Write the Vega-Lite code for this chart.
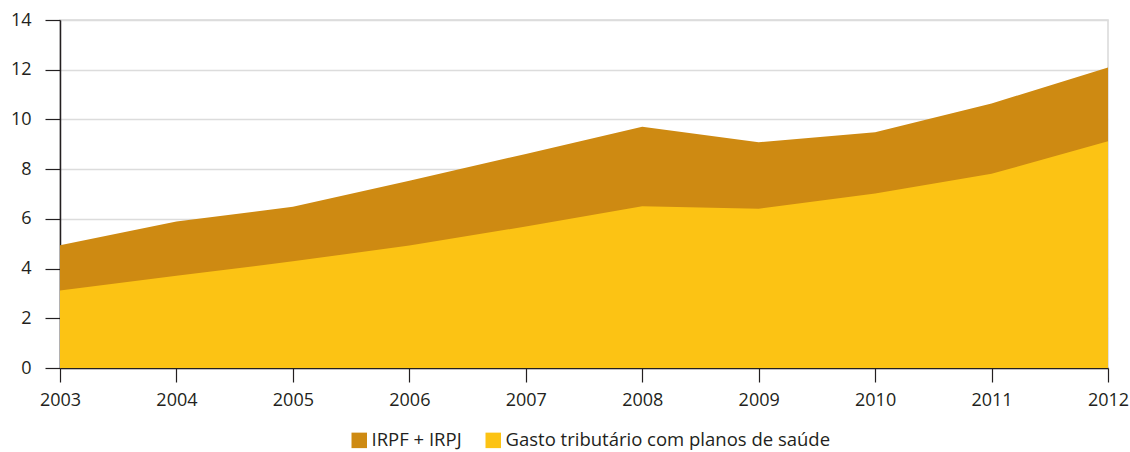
{
  "$schema": "https://vega.github.io/schema/vega-lite/v6.json",
  "autosize": "none",
  "width": 1048,
  "height": 348,
  "padding": {"left": 60, "top": 20, "right": 22, "bottom": 84},
  "background": "white",
  "config": {
    "font": "Open Sans",
    "view": {"stroke": "#d9d9d9", "strokeWidth": 1.5},
    "axis": {
      "labelFont": "Open Sans",
      "labelFontSize": 18,
      "labelColor": "#231f20",
      "domainColor": "#231f20",
      "tickColor": "#231f20",
      "domainWidth": 1.5,
      "tickWidth": 1.2
    },
    "legend": {
      "labelFont": "Open Sans",
      "labelFontSize": 18.5,
      "labelColor": "#231f20",
      "labelLimit": 0
    }
  },
  "data": {
    "values": [
      {"ano": 2003, "serie": "IRPF + IRPJ", "valor": 4.94},
      {"ano": 2004, "serie": "IRPF + IRPJ", "valor": 5.89},
      {"ano": 2005, "serie": "IRPF + IRPJ", "valor": 6.49},
      {"ano": 2006, "serie": "IRPF + IRPJ", "valor": 7.53},
      {"ano": 2007, "serie": "IRPF + IRPJ", "valor": 8.61},
      {"ano": 2008, "serie": "IRPF + IRPJ", "valor": 9.71},
      {"ano": 2009, "serie": "IRPF + IRPJ", "valor": 9.08},
      {"ano": 2010, "serie": "IRPF + IRPJ", "valor": 9.48},
      {"ano": 2011, "serie": "IRPF + IRPJ", "valor": 10.64},
      {"ano": 2012, "serie": "IRPF + IRPJ", "valor": 12.09},
      {"ano": 2003, "serie": "Gasto tributário com planos de saúde", "valor": 3.12},
      {"ano": 2004, "serie": "Gasto tributário com planos de saúde", "valor": 3.71},
      {"ano": 2005, "serie": "Gasto tributário com planos de saúde", "valor": 4.29},
      {"ano": 2006, "serie": "Gasto tributário com planos de saúde", "valor": 4.93},
      {"ano": 2007, "serie": "Gasto tributário com planos de saúde", "valor": 5.69},
      {"ano": 2008, "serie": "Gasto tributário com planos de saúde", "valor": 6.51},
      {"ano": 2009, "serie": "Gasto tributário com planos de saúde", "valor": 6.41},
      {"ano": 2010, "serie": "Gasto tributário com planos de saúde", "valor": 7.02},
      {"ano": 2011, "serie": "Gasto tributário com planos de saúde", "valor": 7.81},
      {"ano": 2012, "serie": "Gasto tributário com planos de saúde", "valor": 9.12}
    ]
  },
  "encoding": {
    "x": {
      "field": "ano",
      "type": "quantitative",
      "scale": {"domain": [2003, 2012], "nice": false, "zero": false},
      "axis": {
        "title": null,
        "values": [2003, 2004, 2005, 2006, 2007, 2008, 2009, 2010, 2011, 2012],
        "format": "d",
        "grid": false,
        "tickSize": 14,
        "labelPadding": 9,
        "labelFlush": false
      }
    },
    "y": {
      "field": "valor",
      "type": "quantitative",
      "stack": null,
      "scale": {"domain": [0, 14], "nice": false},
      "axis": {
        "title": null,
        "values": [0, 2, 4, 6, 8, 10, 12, 14],
        "grid": true,
        "gridColor": "#dcdcdc",
        "gridWidth": 1.5,
        "tickSize": 15,
        "labelPadding": 14
      }
    },
    "color": {
      "field": "serie",
      "type": "nominal",
      "scale": {
        "domain": ["IRPF + IRPJ", "Gasto tributário com planos de saúde"],
        "range": ["#CE8A12", "#FCC314"]
      },
      "legend": {
        "title": null,
        "orient": "none",
        "legendX": 290,
        "legendY": 411,
        "direction": "horizontal",
        "symbolType": "square",
        "symbolSize": 240,
        "symbolStrokeWidth": 0,
        "symbolOpacity": 1,
        "columnPadding": 22,
        "labelOffset": 3
      }
    }
  },
  "layer": [
    {
      "transform": [{"filter": "datum.serie === 'IRPF + IRPJ'"}],
      "mark": {"type": "area", "opacity": 1}
    },
    {
      "transform": [{"filter": "datum.serie !== 'IRPF + IRPJ'"}],
      "mark": {"type": "area", "opacity": 1}
    }
  ]
}
